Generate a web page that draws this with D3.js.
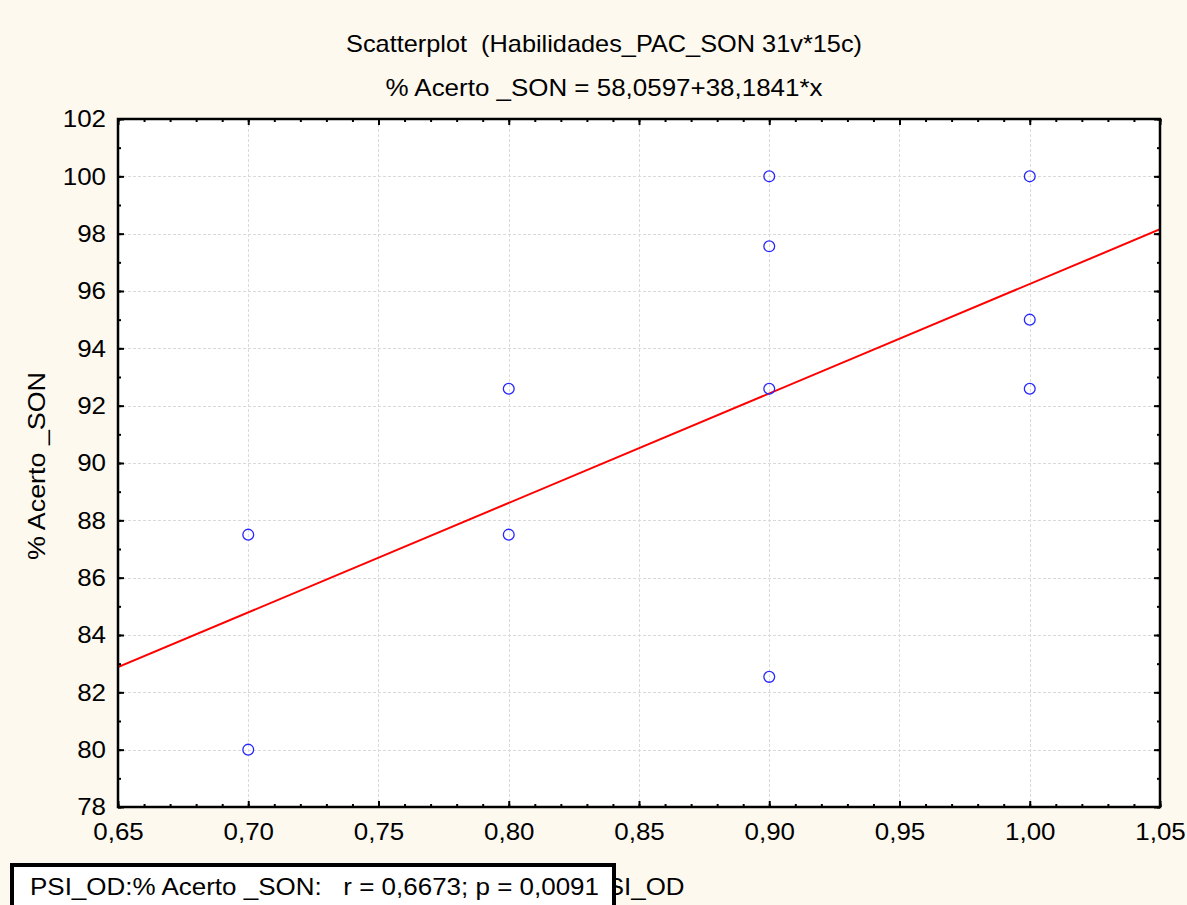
<!DOCTYPE html>
<html>
<head>
<meta charset="utf-8">
<script src="https://cdn.jsdelivr.net/npm/d3@7"></script>
<style>
  html, body { margin: 0; padding: 0; background: #fdf9ef; }
  svg { display: block; font-family: "Liberation Sans", Arial, sans-serif; }
</style>
</head>
<body>
<svg id="chart" width="1187" height="905"></svg>
<script>
// ---- data ----
const xValues = [0.70, 0.70, 0.80, 0.80, 0.90, 0.90, 0.90, 0.90, 1.00, 1.00, 1.00];
const yValues = [87.5, 80.0, 92.59, 87.5, 100.0, 97.56, 92.59, 82.54, 100.0, 95.0, 92.59];
const xTicks = [0.65, 0.70, 0.75, 0.80, 0.85, 0.90, 0.95, 1.00, 1.05];
const yTicks = [78, 80, 82, 84, 86, 88, 90, 92, 94, 96, 98, 100, 102];
const intercept = 58.0597;
const slope = 38.1841;
const titleText = "Scatterplot  (Habilidades_PAC_SON 31v*15c)";
const subtitleText = "% Acerto _SON = 58,0597+38,1841*x";
const xLabel = "PSI_OD";
const yLabel = "% Acerto _SON";
const statText = "PSI_OD:% Acerto _SON:   r = 0,6673; p = 0,0091";

// ---- layout ----
const L = 118, T = 119, R = 1160, B = 807;
const FS = 24;      // font size (px)
const STRETCH = 1.08; // horizontal widening of the original font
const svg = d3.select("#chart");
svg.append("rect").attr("width", 1187).attr("height", 905).attr("fill", "#fdf9ef");

const x = d3.scaleLinear().domain([0.65, 1.05]).range([L, R]);
const y = d3.scaleLinear().domain([78, 102]).range([B, T]);
const fmt = d => d3.format(".2f")(d).replace(".", ",");

function widen(sel) {
  sel.each(function () {
    const w = this.getComputedTextLength();
    if (w > 0) d3.select(this).attr("textLength", w * STRETCH).attr("lengthAdjust", "spacingAndGlyphs");
  });
}

// plot background
svg.append("rect").attr("x", L).attr("y", T).attr("width", R - L).attr("height", B - T).attr("fill", "#ffffff");

// grid
const grid = svg.append("g").attr("stroke", "#dadada").attr("stroke-width", 1).attr("stroke-dasharray", "3,2");
grid.selectAll("line.gx").data(xTicks.slice(1, -1)).join("line")
  .attr("x1", d => Math.round(x(d)) + 0.5).attr("x2", d => Math.round(x(d)) + 0.5)
  .attr("y1", T).attr("y2", B);
grid.selectAll("line.gy").data(yTicks.slice(1, -1)).join("line")
  .attr("y1", d => Math.round(y(d)) + 0.5).attr("y2", d => Math.round(y(d)) + 0.5)
  .attr("x1", L).attr("x2", R);

// clip
svg.append("clipPath").attr("id", "clip").append("rect")
  .attr("x", L).attr("y", T).attr("width", R - L).attr("height", B - T);

// regression line
svg.append("line").attr("clip-path", "url(#clip)")
  .attr("x1", x(0.65)).attr("y1", y(intercept + slope * 0.65))
  .attr("x2", x(1.05)).attr("y2", y(intercept + slope * 1.05))
  .attr("stroke", "#ff0000").attr("stroke-width", 2);

// points
svg.append("g").selectAll("circle").data(xValues.map((v, i) => [v, yValues[i]])).join("circle")
  .attr("cx", d => x(d[0])).attr("cy", d => y(d[1])).attr("r", 5.4)
  .attr("fill", "none").attr("stroke", "#2626ff").attr("stroke-width", 1.3);

// axes (ticks inward on all sides)
const xMinor = d3.range(0.65, 1.0501, 0.01);
const yMinor = d3.range(78, 102.01, 1);
const axB = d3.axisBottom(x).tickValues(xTicks).tickFormat(fmt).tickSizeInner(-6).tickSizeOuter(0).tickPadding(16);
const axL = d3.axisLeft(y).tickValues(yTicks).tickFormat(d3.format("d")).tickSizeInner(-6).tickSizeOuter(0).tickPadding(12);
const axT = d3.axisTop(x).tickValues(xTicks).tickFormat("").tickSizeInner(-6).tickSizeOuter(0);
const axR = d3.axisRight(y).tickValues(yTicks).tickFormat("").tickSizeInner(-6).tickSizeOuter(0);
const mB = d3.axisBottom(x).tickValues(xMinor).tickFormat("").tickSizeInner(-3).tickSizeOuter(0);
const mT = d3.axisTop(x).tickValues(xMinor).tickFormat("").tickSizeInner(-3).tickSizeOuter(0);
const mL = d3.axisLeft(y).tickValues(yMinor).tickFormat("").tickSizeInner(-3).tickSizeOuter(0);
const mR = d3.axisRight(y).tickValues(yMinor).tickFormat("").tickSizeInner(-3).tickSizeOuter(0);

function styleAxis(g) {
  g.select(".domain").remove();
  g.selectAll(".tick line").attr("stroke", "#000").attr("stroke-width", 2);
  g.selectAll(".tick text").attr("fill", "#000").attr("font-size", FS)
    .attr("font-family", "Liberation Sans, Arial, sans-serif").call(widen);
}
svg.append("g").attr("transform", `translate(0,${B})`).call(mB).call(styleAxis);
svg.append("g").attr("transform", `translate(0,${T})`).call(mT).call(styleAxis);
svg.append("g").attr("transform", `translate(${L},0)`).call(mL).call(styleAxis);
svg.append("g").attr("transform", `translate(${R},0)`).call(mR).call(styleAxis);
svg.append("g").attr("transform", `translate(0,${B})`).call(axB).call(styleAxis);
svg.append("g").attr("transform", `translate(0,${T})`).call(axT).call(styleAxis);
svg.append("g").attr("transform", `translate(${L},0)`).call(axL).call(styleAxis);
svg.append("g").attr("transform", `translate(${R},0)`).call(axR).call(styleAxis);

// frame
svg.append("rect").attr("x", L).attr("y", T).attr("width", R - L).attr("height", B - T)
  .attr("fill", "none").attr("stroke", "#000").attr("stroke-width", 2.5);

// titles
svg.append("text").attr("x", 604).attr("y", 52).attr("text-anchor", "middle")
  .attr("font-size", FS).attr("xml:space", "preserve").style("white-space", "pre")
  .attr("textLength", 516).attr("lengthAdjust", "spacingAndGlyphs").text(titleText);
svg.append("text").attr("x", 604).attr("y", 96).attr("text-anchor", "middle")
  .attr("font-size", FS).attr("textLength", 437).attr("lengthAdjust", "spacingAndGlyphs").text(subtitleText);

// axis labels
svg.append("text").attr("transform", `translate(45,466) rotate(-90)`)
  .attr("text-anchor", "middle").attr("font-size", FS)
  .attr("textLength", 188).attr("lengthAdjust", "spacingAndGlyphs").text(yLabel);
svg.append("text").attr("x", 637).attr("y", 895).attr("text-anchor", "middle")
  .attr("font-size", FS).text(xLabel).call(widen);

// stats box
svg.append("rect").attr("x", 12).attr("y", 865).attr("width", 602).attr("height", 60)
  .attr("fill", "#ffffff").attr("stroke", "#000").attr("stroke-width", 4);
svg.append("text").attr("x", 30).attr("y", 895).attr("font-size", FS)
  .style("white-space", "pre").attr("xml:space", "preserve")
  .attr("textLength", 569).attr("lengthAdjust", "spacingAndGlyphs").text(statText);
</script>
</body>
</html>
